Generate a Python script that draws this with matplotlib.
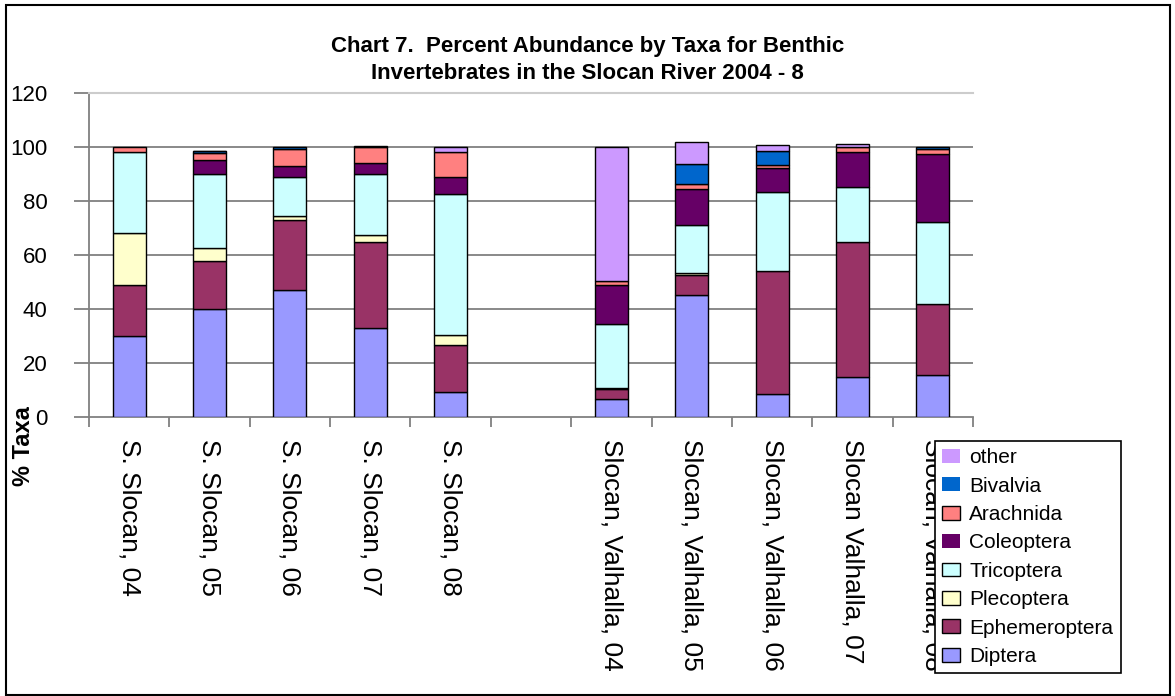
import matplotlib
matplotlib.use("Agg")
import matplotlib.pyplot as plt
from matplotlib.patches import Rectangle
import numpy as np

plt.rcParams['font.family'] = ['Liberation Sans', 'DejaVu Sans']

sites = ["S. Slocan, 04", "S. Slocan, 05", "S. Slocan, 06", "S. Slocan, 07", "S. Slocan, 08", "",
         "Slocan, Valhalla, 04", "Slocan, Valhalla, 05", "Slocan, Valhalla, 06",
         "Slocan Valhalla, 07", "Slocan, Valhalla, 08"]

# percent of sample per taxon, one value per site (blank site = gap)
diptera       = [30.0, 40.0, 47.0, 32.8,  9.4, 0,  6.7, 45.1,  8.7, 15.0, 15.7]
ephemeroptera = [19.0, 17.7, 25.9, 31.9, 17.1, 0,  3.7,  7.4, 45.3, 49.7, 26.3]
plecoptera    = [19.0,  4.9,  1.4,  2.7,  3.7, 0,  0.3,  0.9,  0.0,  0.0,  0.0]
tricoptera    = [30.0, 27.5, 14.5, 22.7, 52.5, 0, 23.6, 17.7, 29.4, 20.4, 30.2]
coleoptera    = [ 0.0,  5.2,  4.0,  4.1,  6.3, 0, 14.5, 13.4,  8.8, 13.0, 25.1]
arachnida     = [ 2.0,  2.6,  6.6,  5.8,  9.3, 0,  1.5,  1.7,  1.2,  1.8,  2.0]
bivalvia      = [ 0.0,  0.6,  0.6,  0.0,  0.0, 0,  0.0,  7.4,  5.2,  0.0,  0.8]
other         = [ 0.0,  0.2,  0.0,  0.5,  1.7, 0, 49.7,  8.4,  2.0,  1.3,  0.0]

taxa = ["Diptera", "Ephemeroptera", "Plecoptera", "Tricoptera",
        "Coleoptera", "Arachnida", "Bivalvia", "other"]
series = [diptera, ephemeroptera, plecoptera, tricoptera,
          coleoptera, arachnida, bivalvia, other]
colors = ["#9999FF", "#993366", "#FFFFCC", "#CCFFFF",
          "#660066", "#FF8080", "#0066CC", "#CC99FF"]

fig = plt.figure(figsize=(11.75, 6.96), dpi=100)
ax = fig.add_axes([89/1175, 1 - 417/696, (973 - 89)/1175, (417 - 93)/696])

x = np.arange(len(sites))
bottom = np.zeros(len(sites))
handles = []
for name, vals, c in zip(taxa, series, colors):
    vals = np.array(vals)
    # no outline on empty segments
    lw = np.where(vals > 0, 1.0, 0.0)
    b = ax.bar(x, vals, width=0.41, bottom=bottom, color=c, edgecolor="black",
               linewidth=lw, label=name, zorder=3)
    handles.append(b)
    bottom += vals

ax.set_xlim(-0.5, len(sites) - 0.5)
ax.set_ylim(0, 120)
ax.set_yticks(range(0, 121, 20))
ax.set_yticklabels([str(v) for v in range(0, 121, 20)], fontsize=16)
for v in range(20, 101, 20):
    ax.axhline(v, color="#808080", linewidth=1.3, zorder=1)

ax.set_xticks(x)
ax.set_xticklabels(sites, rotation=-90, fontsize=19, va="top", ha="center")
ax.set_xticks(np.arange(-0.5, len(sites)), minor=True)
ax.tick_params(axis="x", which="major", length=0, pad=16)
ax.tick_params(axis="x", which="minor", length=7, width=1.3, color="#808080", direction="out")
ax.tick_params(axis="y", length=11, width=1.3, color="#808080", pad=19)

ax.spines["right"].set_visible(False)
ax.spines["top"].set_color("#cccccc")
ax.spines["top"].set_linewidth(1.5)
ax.spines["left"].set_color("#808080")
ax.spines["left"].set_linewidth(1.3)
ax.spines["bottom"].set_color("#808080")
ax.spines["bottom"].set_linewidth(1.3)

fig.text(0.5, 1 - 60/696, "Chart 7.  Percent Abundance by Taxa for Benthic\nInvertebrates in the Slocan River 2004 - 8",
         ha="center", va="center", fontsize=16, fontweight="bold", linespacing=1.35)
fig.text(24/1175, 1 - 446/696, "% Taxa", rotation=90, ha="center", va="center",
         fontsize=17, fontweight="bold")

leg = fig.legend(handles[::-1], taxa[::-1], loc="upper left",
                 bbox_to_anchor=(935/1175, 1 - 441/696), fontsize=15,
                 frameon=True, fancybox=False, framealpha=1, edgecolor="black",
                 handlelength=0.85, handleheight=0.65, handletextpad=0.45,
                 labelspacing=0.45, borderpad=0.35, borderaxespad=0)
leg.get_frame().set_linewidth(1.2)

fig.patches.append(Rectangle((6/1175, 0.002), (1170 - 6)/1175, 1 - 5/696 - 0.002,
                             transform=fig.transFigure, fill=False,
                             edgecolor="black", linewidth=1.5))

fig.savefig("out.png", dpi=100)
